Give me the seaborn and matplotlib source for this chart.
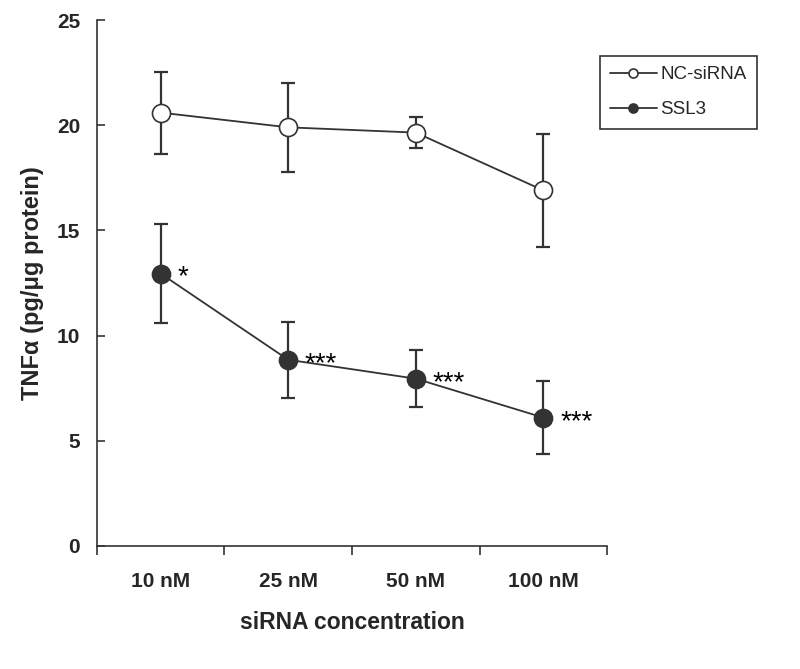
import matplotlib
matplotlib.use('Agg')
import matplotlib.pyplot as plt
import seaborn as sns
import numpy as np

# values
concentrations = ['10 nM', '25 nM', '50 nM', '100 nM']
nc_mean = [20.6, 19.9, 19.65, 16.9]
nc_sd = [1.95, 2.1, 0.75, 2.7]
ssl3_mean = [12.95, 8.85, 7.95, 6.1]
ssl3_sd = [2.35, 1.8, 1.35, 1.75]
ssl3_stars = ['*', '***', '***', '***']

sns.set_style('white')
plt.rcParams['font.family'] = ['Liberation Sans', 'DejaVu Sans']

dark = '#333333'
pos = np.arange(len(concentrations))

fig = plt.figure(figsize=(8, 6.69), dpi=100)
ax = fig.add_axes([0.121, 0.184, 0.638, 0.786])

# error bars first so markers sit on top
ax.errorbar(pos, nc_mean, yerr=nc_sd, fmt='none', ecolor=dark,
            elinewidth=1.6, capsize=5, capthick=1.6, zorder=1)
ax.errorbar(pos, ssl3_mean, yerr=ssl3_sd, fmt='none', ecolor=dark,
            elinewidth=1.6, capsize=5, capthick=1.6, zorder=1)

sns.lineplot(x=pos, y=nc_mean, ax=ax, color=dark, linewidth=1.3,
             marker='o', markersize=13, markerfacecolor='white',
             markeredgecolor=dark, markeredgewidth=1.2, label='NC-siRNA', zorder=3)
sns.lineplot(x=pos, y=ssl3_mean, ax=ax, color=dark, linewidth=1.3,
             marker='o', markersize=13, markerfacecolor=dark,
             markeredgecolor=dark, markeredgewidth=1.2, label='SSL3', zorder=3)

# significance marks
for x, y, s in zip(pos, ssl3_mean, ssl3_stars):
    ax.annotate(s, (x, y), xytext=(12, -8), textcoords='offset points',
                fontsize=20, color='black', va='baseline', ha='left')

ax.set_xlim(-0.5, len(concentrations) - 0.5)
ax.set_ylim(0, 25)
ax.set_yticks([0, 5, 10, 15, 20, 25])

# category labels at centers, tick marks at the boundaries
ax.set_xticks(pos)
ax.set_xticklabels(concentrations, fontsize=15, fontweight='bold')
ax.set_xticks(np.arange(-0.5, len(concentrations)), minor=True)
ax.tick_params(axis='x', which='major', bottom=True, length=0, pad=19)
ax.tick_params(axis='x', which='minor', bottom=True, direction='out',
               length=6.5, width=1.2, color=dark)
ax.tick_params(axis='y', left=True, direction='in', length=6, width=1.2,
               color=dark, labelsize=15, pad=12)
for lab in ax.get_yticklabels():
    lab.set_fontweight('bold')

for side in ['top', 'right']:
    ax.spines[side].set_visible(False)
for side in ['left', 'bottom']:
    ax.spines[side].set_color(dark)
    ax.spines[side].set_linewidth(1.2)

ax.set_xlabel('siRNA concentration', fontsize=16.5, fontweight='bold', labelpad=14)
ax.set_ylabel('TNF\u03b1 (pg/\u03bcg protein)', fontsize=17, fontweight='bold', labelpad=9)

leg = ax.legend(loc='upper left', bbox_to_anchor=(0.985, 0.932), fontsize=13.5,
                frameon=True, fancybox=False, edgecolor='black', borderpad=0.55,
                handlelength=2.5, handletextpad=0.2, labelspacing=0.95,
                markerscale=0.5, borderaxespad=0)
leg.get_frame().set_linewidth(1.2)

fig.savefig('out.png', dpi=100)
